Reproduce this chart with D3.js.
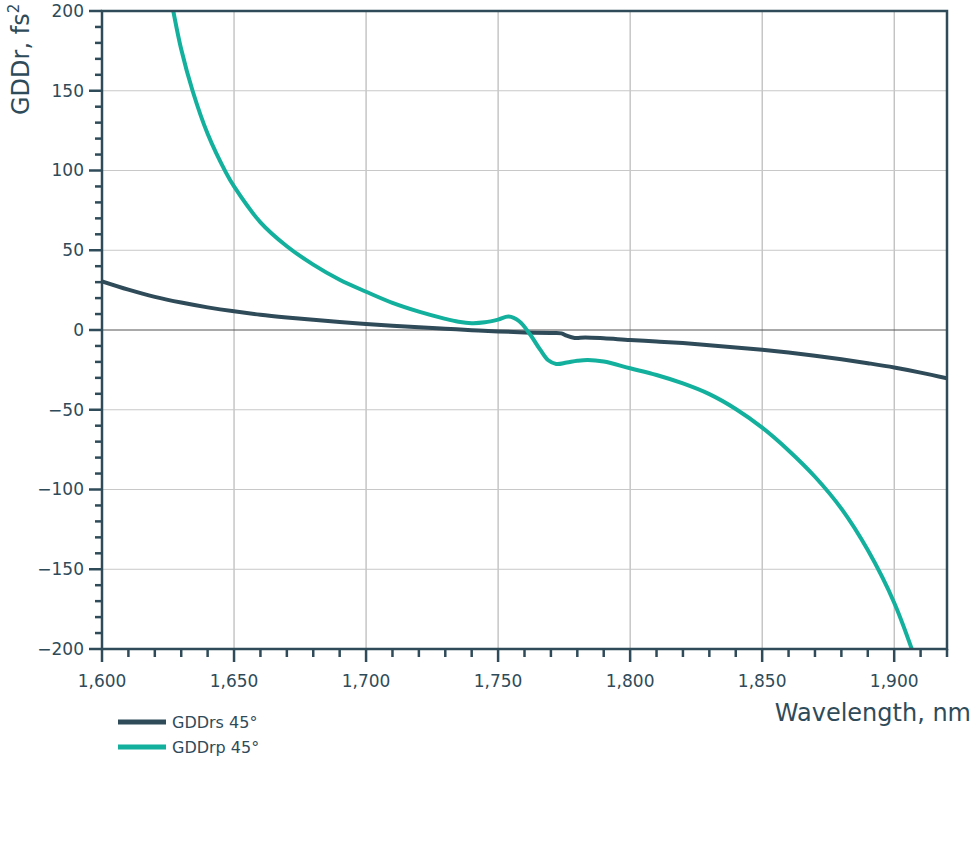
<!DOCTYPE html>
<html lang="en">
  <head>
    <meta charset="utf-8" />
    <title>GDD</title>
    <script src="https://d3js.org/d3.v7.min.js"></script>
    <style>
      body { margin: 0; background: #fff; }
      text { font-family: "DejaVu Sans", Verdana, sans-serif; fill: #2f4b59; }
    </style>
  </head>
  <body>
    <div id="chart"></div>
    <script>
      // values
      var wlS = [1600, 1610, 1620, 1630, 1640, 1650, 1660, 1670, 1680, 1690, 1700, 1710, 1720, 1730, 1740, 1750, 1760, 1770, 1774, 1776, 1779, 1783, 1790, 1800, 1810, 1820, 1830, 1840, 1850, 1860, 1870, 1880, 1890, 1900, 1910, 1920];
      var gddS = [30.5, 25.3, 20.8, 17.2, 14.2, 11.7, 9.6, 7.9, 6.4, 5, 3.8, 2.7, 1.7, 0.8, -0.1, -0.9, -1.5, -1.9, -2.1, -3.6, -5, -4.7, -5.2, -6.3, -7.2, -8.2, -9.5, -10.9, -12.4, -14.1, -16.1, -18.3, -20.8, -23.5, -26.7, -30.3];

      var wlP = [1625, 1627, 1630, 1634.3, 1640, 1647, 1650, 1660, 1670, 1680, 1690, 1700, 1710, 1720, 1730, 1735, 1740, 1745, 1750, 1754, 1758, 1762, 1766, 1769, 1772, 1776, 1780, 1784, 1790, 1800, 1810, 1820, 1830, 1840, 1850, 1860, 1870, 1880, 1890, 1900, 1910];
      var gddP = [218, 200, 176, 150, 123, 98.5, 90, 67.5, 52.5, 41, 31.5, 24, 17, 11.5, 7, 5.2, 4.3, 4.8, 6.5, 8.4, 5.5, -2.5, -12.5, -19, -21.3, -20.4, -19.3, -18.8, -19.8, -24, -28.2, -33.5, -40.2, -49.5, -61.2, -75.5, -92, -112, -138, -171, -216];

      var series = [
        { name: "GDDrs 45°", x: wlS, y: gddS, color: "#2f4b59" },
        { name: "GDDrp 45°", x: wlP, y: gddP, color: "#13b09d" }
      ];

      var xTicks = [1600, 1650, 1700, 1750, 1800, 1850, 1900];
      var yTicks = [-200, -150, -100, -50, 0, 50, 100, 150, 200];

      var margin = { left: 102, top: 11 };
      var width = 845, height = 638;
      var axisColor = "#2f4b59";

      var svg = d3.select("#chart").append("svg")
        .attr("width", 974).attr("height", 842);

      var g = svg.append("g")
        .attr("transform", "translate(" + margin.left + "," + margin.top + ")");

      var x = d3.scaleLinear().domain([1600, 1920]).range([0, width]);
      var y = d3.scaleLinear().domain([-200, 200]).range([height, 0]);

      // grid
      g.append("g").selectAll("line").data(xTicks.slice(1)).join("line")
        .attr("x1", d => x(d)).attr("x2", d => x(d))
        .attr("y1", 0).attr("y2", height)
        .attr("stroke", "#a9a9a9").attr("stroke-width", 1);
      g.append("g").selectAll("line").data(yTicks.filter(d => d !== 0 && d > -200 && d < 200)).join("line")
        .attr("x1", 0).attr("x2", width)
        .attr("y1", d => y(d)).attr("y2", d => y(d))
        .attr("stroke", "#c8c8c8").attr("stroke-width", 1);
      g.append("line")
        .attr("x1", 0).attr("x2", width)
        .attr("y1", y(0)).attr("y2", y(0))
        .attr("stroke", "#555").attr("stroke-width", 1);

      // clip
      svg.append("defs").append("clipPath").attr("id", "clip")
        .append("rect").attr("width", width).attr("height", height);

      var line = d3.line().curve(d3.curveCatmullRom.alpha(0.5));
      series.forEach(function (s) {
        g.append("path")
          .attr("clip-path", "url(#clip)")
          .attr("fill", "none")
          .attr("stroke", s.color)
          .attr("stroke-width", 4)
          .attr("stroke-linejoin", "round")
          .attr("d", line(s.x.map((v, i) => [x(v), y(s.y[i])])));
      });

      // frame
      g.append("rect")
        .attr("width", width).attr("height", height)
        .attr("fill", "none").attr("stroke", axisColor).attr("stroke-width", 2.5);

      // x axis
      var xMinor = d3.range(1600, 1921, 10);
      var xAxis = g.append("g").attr("transform", "translate(0," + height + ")");
      xAxis.selectAll("line").data(xMinor).join("line")
        .attr("x1", d => x(d)).attr("x2", d => x(d))
        .attr("y1", 0).attr("y2", d => d % 50 === 0 ? 13 : 8)
        .attr("stroke", axisColor).attr("stroke-width", 2.5);
      xAxis.selectAll("text").data(xTicks).join("text")
        .attr("x", d => x(d)).attr("y", 38)
        .attr("text-anchor", "middle")
        .style("font-size", "17px")
        .text(d3.format(","));

      // y axis
      var yMinor = d3.range(-200, 201, 10);
      var yAxis = g.append("g");
      yAxis.selectAll("line").data(yMinor).join("line")
        .attr("x1", d => d % 50 === 0 ? -13 : -7).attr("x2", 0)
        .attr("y1", d => y(d)).attr("y2", d => y(d))
        .attr("stroke", axisColor).attr("stroke-width", 2.5);
      yAxis.selectAll("text").data(yTicks).join("text")
        .attr("x", -18).attr("y", d => y(d)).attr("dy", "0.35em")
        .attr("text-anchor", "end")
        .style("font-size", "17px")
        .text(d3.format(","));

      // axis titles
      svg.append("text")
        .attr("x", 971).attr("y", 721)
        .attr("text-anchor", "end")
        .style("font-size", "24px")
        .text("Wavelength, nm");

      var yl = svg.append("text")
        .attr("transform", "translate(29,115) rotate(-90)")
        .attr("text-anchor", "start")
        .style("font-size", "24px");
      yl.append("tspan").text("GDDr, fs");
      yl.append("tspan").attr("dy", -10).style("font-size", "15px").text("2");

      // legend
      var leg = svg.append("g").attr("transform", "translate(118,722)");
      series.forEach(function (s, i) {
        leg.append("line")
          .attr("x1", 0).attr("x2", 48)
          .attr("y1", i * 25).attr("y2", i * 25)
          .attr("stroke", s.color).attr("stroke-width", 5);
        leg.append("text")
          .attr("x", 54).attr("y", i * 25).attr("dy", "0.35em")
          .style("font-size", "16px")
          .text(s.name);
      });
    </script>
  </body>
</html>
